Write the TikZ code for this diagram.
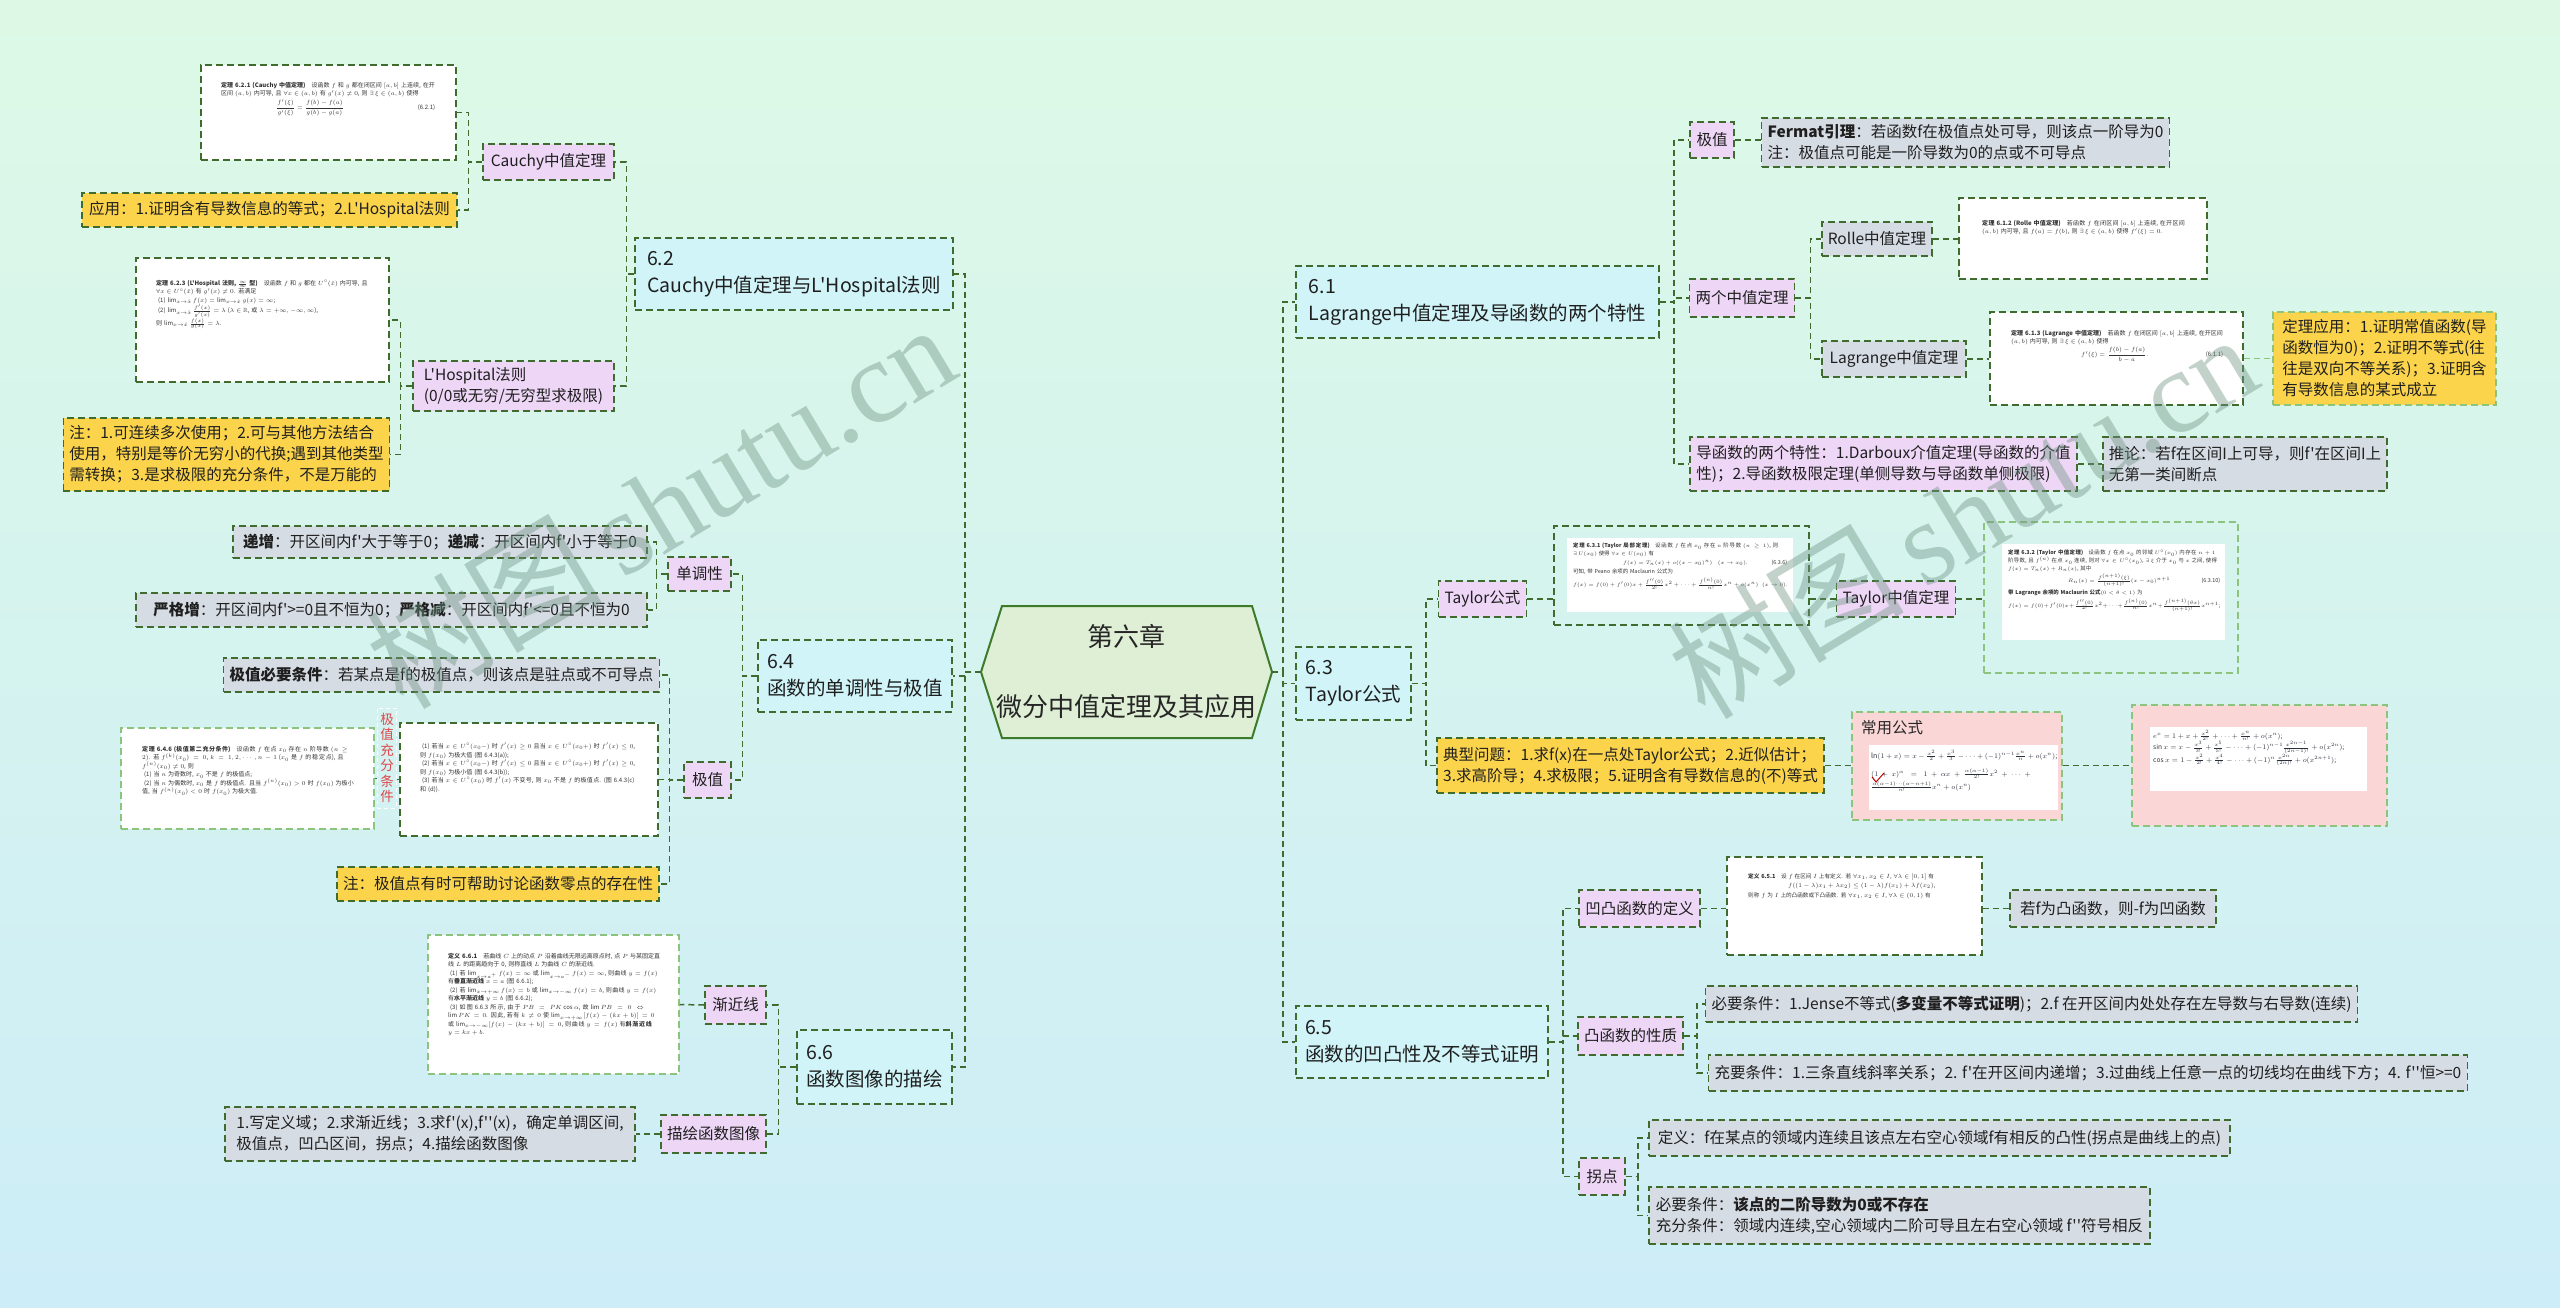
\documentclass[tikz,border=0pt]{standalone}
\usepackage{amsmath,amssymb}
\usepackage{fontspec}
\setmainfont{Noto Sans CJK SC}[Ligatures=TeXOff]
\newfontfamily\wmfont{Liberation Serif}
\XeTeXlinebreaklocale "zh"
\XeTeXlinebreakskip=0pt plus 1pt
\newcommand\fz[2]{\fontsize{#1}{#2}\selectfont}
\definecolor{lineg}{HTML}{3F6B2F}
\definecolor{lightg}{HTML}{8CC47E}
\definecolor{secfill}{HTML}{D0F4F8}
\definecolor{pinkfill}{HTML}{EED6F6}
\definecolor{grayfill}{HTML}{D6DCE4}
\definecolor{yellowfill}{HTML}{FBD44B}
\definecolor{rootfill}{HTML}{DFEFD5}
\definecolor{rootline}{HTML}{3E7A2C}
\definecolor{redtxt}{HTML}{E0474C}
\definecolor{rosefill}{HTML}{FBD6D6}
\definecolor{bgtop}{HTML}{DDF9E6}
\definecolor{bgbot}{HTML}{CDEDF8}
\definecolor{wmcol}{HTML}{6F9483}
\definecolor{ink}{HTML}{2A2F3A}
\begin{document}
\begin{tikzpicture}[x=1pt,y=-1pt,
  conn/.style={draw=lineg, line width=1.5pt, dash pattern=on 6pt off 4pt},
  lconn/.style={draw=lightg, line width=1.3pt, dash pattern=on 6pt off 4pt},
  bx/.style={draw=lineg, line width=1.5pt, dash pattern=on 7pt off 4pt, inner xsep=6pt, inner ysep=2pt, align=left, font=\fz{15.5}{21}, text=black!88},
  bb/.style n args={4}{at={({(#1+#3)/2},{(#2+#4)/2})}, minimum width={#3-#1}, minimum height={#4-#2}},
  sec/.style={bx, fill=secfill, font=\fz{19.5}{27}},
  pk/.style={bx, fill=pinkfill},
  gy/.style={bx, fill=grayfill},
  yl/.style={bx, fill=yellowfill},
  img/.style={bx, fill=white},
  limg/.style={bx, draw=lightg, fill=white},
  frame/.style={bx, fill=none},
  lframe/.style={bx, draw=lightg, fill=none},
  rose/.style={bx, draw=lightg, fill=rosefill},
  plain/.style={inner sep=0pt, fill=white, minimum width=10pt},
  imgtxt/.style={inner sep=0pt, align=left, anchor=north west, font=\fz{6}{8.5}, text=black!80},
  hand/.style={inner sep=0pt, align=left, anchor=north west, font=\fz{7}{13}, text=ink},
  wm/.style={font=\fz{118}{118}, text=wmcol, opacity=0.42, inner sep=0pt}
]
\useasboundingbox (0,0) rectangle (2560,1307);
\fill[top color=bgtop, bottom color=bgbot] (0,0) rectangle (2560,1307);

% ---------- root ----------
\filldraw[fill=rootfill, draw=rootline, line width=2pt] (1002,606) -- (1252,606) -- (1272,672) -- (1252,738) -- (1002,738) -- (981,672) -- cycle;
\node[bb={981}{606}{1272}{738}, align=center, font=\fz{26}{70}, text=black!85] (root) {第六章\\微分中值定理及其应用};

% ---------- left: 6.2 ----------
\node[sec, bb={635}{238}{953}{310}] (s62) {6.2\\Cauchy中值定理与L'Hospital法则};
\node[pk, bb={483}{144}{614}{180}] (cauchy) {Cauchy中值定理};
\node[img, bb={201}{65}{456}{160}] (cimg) {};
\node[imgtxt, text width=214] (cimgt) at (221,82) {\textbf{定理 6.2.1 (Cauchy 中值定理)}\quad 设函数 $f$ 和 $g$ 都在闭区间 $[a,b]$ 上连续, 在开区间 $(a,b)$ 内可导, 且 $\forall x\in(a,b)$ 有 $g'(x)\neq0$, 则 $\exists\,\xi\in(a,b)$ 使得\\[1pt]\hspace*{55pt}$\dfrac{f'(\xi)}{g'(\xi)}=\dfrac{f(b)-f(a)}{g(b)-g(a)}$\hfill(6.2.1)};
\node[yl, bb={82}{193}{457}{227}] (capp) {应用：1.证明含有导数信息的等式；2.L'Hospital法则};
\node[img, bb={136}{258}{389}{382}] (limg) {};
\node[imgtxt, text width=212] (limgt) at (156,280) {\textbf{定理 6.2.3 (L'Hospital 法则, $\frac{\infty}{\infty}$ 型)}\quad 设函数 $f$ 和 $g$ 都在 $U^\circ(\hat x)$ 内可导, 且 $\forall x\in U^\circ(\hat x)$ 有 $g'(x)\neq0$. 若满足\\
\ (1) $\lim_{x\to\hat x}f(x)=\lim_{x\to\hat x}g(x)=\infty$;\\
\ (2) $\lim_{x\to\hat x}\frac{f'(x)}{g'(x)}=\lambda$ ($\lambda\in\mathbb{R}$, 或 $\lambda=+\infty,-\infty,\infty$),\\
则 $\lim_{x\to\hat x}\frac{f(x)}{g(x)}=\lambda$.};
\node[pk, bb={413}{361}{614}{411}] (lhos) {L'Hospital法则\\(0/0或无穷/无穷型求极限)};
\node[yl, bb={64}{418}{389}{491}] (lnote) {注：1.可连续多次使用；2.可与其他方法结合\\使用，特别是等价无穷小的代换;遇到其他类型\\需转换；3.是求极限的充分条件，不是万能的};

% ---------- left: 6.4 ----------
\node[sec, bb={758}{640}{952}{712}] (s64) {6.4\\函数的单调性与极值};
\node[pk, bb={668}{557}{731}{591}] (mono) {单调性};
\node[gy, bb={233}{526}{647}{558}] (inc) {\textbf{递增}：开区间内f'大于等于0；\textbf{递减}：开区间内f'小于等于0};
\node[gy, bb={136}{593}{647}{627}] (strict) {\textbf{严格增}：开区间内f'>=0且不恒为0；\textbf{严格减}：开区间内f'<=0且不恒为0};
\node[pk, bb={684}{762}{731}{798}] (ext) {极值};
\node[gy, bb={225}{658}{658}{692}] (nec) {\textbf{极值必要条件}：若某点是f的极值点，则该点是驻点或不可导点};
\node[img, bb={400}{723}{658}{836}] (eimgR) {};
\node[imgtxt, text width=218] (eimgRt) at (420,743) {\ (1) 若当 $x\in U^\circ(x_0-)$ 时 $f'(x)\geq0$ 且当 $x\in U^\circ(x_0+)$ 时 $f'(x)\leq0$, 则 $f(x_0)$ 为极大值 (图 6.4.3(a));\\
\ (2) 若当 $x\in U^\circ(x_0-)$ 时 $f'(x)\leq0$ 且当 $x\in U^\circ(x_0+)$ 时 $f'(x)\geq0$, 则 $f(x_0)$ 为极小值 (图 6.4.3(b));\\
\ (3) 若当 $x\in U^\circ(x_0)$ 时 $f'(x)$ 不变号, 则 $x_0$ 不是 $f$ 的极值点. (图 6.4.3(c) 和 (d)).};
\node[font=\fz{13.5}{15.5}, text=redtxt, align=center, draw=white, line width=0.8pt, dash pattern=on 4pt off 3pt, inner xsep=3pt, inner ysep=5pt] (elab) at (387,758) {极\\值\\充\\分\\条\\件};
\node[limg, bb={121}{728}{374}{829}] (eimgL) {};
\node[imgtxt, text width=212] (eimgLt) at (142,746) {\textbf{定理 6.4.6 (极值第二充分条件)}\quad 设函数 $f$ 在点 $x_0$ 存在 $n$ 阶导数 $(n\geq2)$. 若 $f^{(k)}(x_0)=0$, $k=1,2,\cdots,n-1$ ($x_0$ 是 $f$ 的稳定点), 且 $f^{(n)}(x_0)\neq0$, 则\\
\ (1) 当 $n$ 为奇数时, $x_0$ 不是 $f$ 的极值点;\\
\ (2) 当 $n$ 为偶数时, $x_0$ 是 $f$ 的极值点. 且当 $f^{(n)}(x_0)>0$ 时 $f(x_0)$ 为极小值, 当 $f^{(n)}(x_0)<0$ 时 $f(x_0)$ 为极大值.};
\node[yl, bb={338}{867}{658}{901}] (enote) {注：极值点有时可帮助讨论函数零点的存在性};

% ---------- left: 6.6 ----------
\node[sec, bb={797}{1030}{952}{1104}] (s66) {6.6\\函数图像的描绘};
\node[pk, bb={705}{986}{766}{1024}] (asym) {渐近线};
\node[limg, bb={428}{935}{679}{1074}] (aimg) {};
\node[imgtxt, text width=212] (aimgt) at (448,953) {\textbf{定义 6.6.1}\quad 若曲线 $C$ 上的动点 $P$ 沿着曲线无限远离原点时, 点 $P$ 与某固定直线 $L$ 的距离趋向于 0, 则称直线 $L$ 为曲线 $C$ 的渐近线.\\
\ (1) 若 $\lim_{x\to a^+}f(x)=\infty$ 或 $\lim_{x\to a^-}f(x)=\infty$, 则曲线 $y=f(x)$ 有\textbf{垂直渐近线} $x=a$ (图 6.6.1);\\
\ (2) 若 $\lim_{x\to+\infty}f(x)=b$ 或 $\lim_{x\to-\infty}f(x)=b$, 则曲线 $y=f(x)$ 有\textbf{水平渐近线} $y=b$ (图 6.6.2);\\
\ (3) 如图 6.6.3 所示, 由于 $PB=PK\cos\alpha$, 故 $\lim PB=0\Leftrightarrow\lim PK=0$. 因此, 若有 $k\neq0$ 使 $\lim_{x\to+\infty}[f(x)-(kx+b)]=0$ 或 $\lim_{x\to-\infty}[f(x)-(kx+b)]=0$, 则曲线 $y=f(x)$ 有\textbf{斜渐近线} $y=kx+b$.};
\node[pk, bb={661}{1115}{766}{1153}] (drawg) {描绘函数图像};
\node[gy, bb={225}{1107}{635}{1161}] (dnote) {1.写定义域；2.求渐近线；3.求f'(x),f''(x)，确定单调区间,\\极值点，凹凸区间，拐点；4.描绘函数图像};

% ---------- right: 6.1 ----------
\node[sec, bb={1296}{266}{1659}{338}] (s61) {6.1\\Lagrange中值定理及导函数的两个特性};
\node[pk, bb={1690}{122}{1734}{158}] (jz) {极值};
\node[gy, bb={1763}{118}{2168}{167}] (fermat) {\textbf{Fermat引理}：若函数f在极值点处可导，则该点一阶导为0\\注：极值点可能是一阶导数为0的点或不可导点};
\node[pk, bb={1690}{279}{1794}{317}] (two) {两个中值定理};
\node[gy, bb={1822}{222}{1932}{256}] (rolle) {Rolle中值定理};
\node[img, bb={1959}{198}{2207}{279}] (rimg) {};
\node[imgtxt, text width=206] (rimgt) at (1982,220) {\textbf{定理 6.1.2 (Rolle 中值定理)}\quad 若函数 $f$ 在闭区间 $[a,b]$ 上连续, 在开区间 $(a,b)$ 内可导, 且 $f(a)=f(b)$, 则 $\exists\,\xi\in(a,b)$ 使得 $f'(\xi)=0$.};
\node[gy, bb={1822}{341}{1966}{377}] (lag) {Lagrange中值定理};
\node[img, bb={1990}{312}{2243}{405}] (lgimg) {};
\node[imgtxt, text width=212] (lgimgt) at (2011,330) {\textbf{定理 6.1.3 (Lagrange 中值定理)}\quad 若函数 $f$ 在闭区间 $[a,b]$ 上连续, 在开区间 $(a,b)$ 内可导, 则 $\exists\,\xi\in(a,b)$ 使得\\[1pt]\hspace*{70pt}$f'(\xi)=\dfrac{f(b)-f(a)}{b-a}$.\hfill(6.1.1)};
\node[yl, draw=lightg, bb={2273}{312}{2496}{405}] (lapp) {定理应用：1.证明常值函数(导\\函数恒为0)；2.证明不等式(往\\往是双向不等关系)；3.证明含\\有导数信息的某式成立};
\node[pk, bb={1690}{437}{2077}{491}] (deriv) {导函数的两个特性：1.Darboux介值定理(导函数的介值\\性)；2.导函数极限定理(单侧导数与导函数单侧极限)};
\node[gy, bb={2103}{437}{2387}{491}] (corol) {推论：若f在区间I上可导，则f'在区间I上\\无第一类间断点};

% ---------- right: 6.3 ----------
\node[sec, bb={1296}{647}{1411}{720}] (s63) {6.3\\Taylor公式};
\node[pk, bb={1440}{581}{1525}{617}] (tay) {Taylor公式};
\node[frame, bb={1554}{526}{1809}{625}] (timg) {};
\node[plain, bb={1567}{538}{1793}{612}] (timgw) {};
\node[imgtxt, font=\fz{5.4}{7.6}, text width=214] (timgt) at (1573,543) {\textbf{定理 6.3.1 (Taylor 局部定理)}\quad 设函数 $f$ 在点 $x_0$ 存在 $n$ 阶导数 $(n\geq1)$, 则 $\exists\,U(x_0)$ 使得 $\forall x\in U(x_0)$ 有\\[1pt]
\hspace*{50pt}$f(x)=T_n(x)+o((x-x_0)^n)\quad(x\to x_0)$.\hfill(6.3.6)\\[2pt]
可知, 带 Peano 余项的 Maclaurin 公式为\\[2pt]
$f(x)=f(0)+f'(0)x+\frac{f''(0)}{2!}x^2+\cdots+\frac{f^{(n)}(0)}{n!}x^n+o(x^n)\ \ (x\to0)$.};
\node[pk, bb={1838}{581}{1954}{617}] (tmv) {Taylor中值定理};
\node[lframe, bb={1984}{522}{2238}{673}] (tmimg) {};
\node[plain, bb={2002}{544}{2225}{640}] (tmimgw) {};
\node[imgtxt, font=\fz{5.4}{7.8}, text width=212] (tmimgt) at (2008,550) {\textbf{定理 6.3.2 (Taylor 中值定理)}\quad 设函数 $f$ 在点 $x_0$ 的邻域 $U^\circ(x_0)$ 内存在 $n+1$ 阶导数, 且 $f^{(n)}$ 在点 $x_0$ 连续, 则对 $\forall x\in U^\circ(x_0)$, $\exists\,\xi$ 介于 $x_0$ 与 $x$ 之间, 使得 $f(x)=T_n(x)+R_n(x)$, 其中\\[1pt]
\hspace*{60pt}$R_n(x)=\frac{f^{(n+1)}(\xi)}{(n+1)!}(x-x_0)^{n+1}$\hfill(6.3.10)\\[2pt]
\textbf{带 Lagrange 余项的 Maclaurin 公式}$(0<\theta<1)$ 为\\[2pt]
$f(x)=f(0)+f'(0)x+\frac{f''(0)}{2!}x^2+\cdots+\frac{f^{(n)}(0)}{n!}x^n+\frac{f^{(n+1)}(\theta x)}{(n+1)!}x^{n+1}$;};
\node[yl, bb={1438}{738}{1823}{793}] (typ) {典型问题：1.求f(x)在一点处Taylor公式；2.近似估计；\\3.求高阶导；4.求极限；5.证明含有导数信息的(不)等式};
\node[rose, bb={1852}{712}{2062}{820}] (rose1) {};
\node[inner sep=0pt, anchor=north west, font=\fz{15.5}{18}, text=black!85] (rose1t) at (1861,720) {常用公式};
\node[plain, bb={1869}{745}{2058}{810}] (rose1w) {};
\node[hand, text width=186] (rose1f) at (1871,750) {$\ln(1+x)=x-\frac{x^2}{2}+\frac{x^3}{3}-\cdots+(-1)^{n-1}\frac{x^n}{n}+o(x^n)$;\\[5pt]
$(1+x)^\alpha=1+\alpha x+\frac{\alpha(\alpha-1)}{2!}x^2+\cdots+\frac{\alpha(\alpha-1)\cdots(\alpha-n+1)}{n!}x^n+o(x^n)$};
\draw[red!75!black, line width=1pt] (1872,777) -- (1876,782) -- (1884,773);
\node[rose, bb={2132}{705}{2387}{826}] (rose2) {};
\node[plain, bb={2150}{727}{2367}{791}] (rose2w) {};
\node[hand, font=\fz{6.6}{11.5}, text width=214] (rose2f) at (2153,730) {$e^x=1+x+\frac{x^2}{2!}+\cdots+\frac{x^n}{n!}+o(x^n)$;\\
$\sin x=x-\frac{x^3}{3!}+\frac{x^5}{5!}-\cdots+(-1)^{n-1}\frac{x^{2n-1}}{(2n-1)!}+o(x^{2n})$;\\
$\cos x=1-\frac{x^2}{2!}+\frac{x^4}{4!}-\cdots+(-1)^n\frac{x^{2n}}{(2n)!}+o(x^{2n+1})$;};

% ---------- right: 6.5 ----------
\node[sec, bb={1296}{1006}{1548}{1078}] (s65) {6.5\\函数的凹凸性及不等式证明};
\node[pk, bb={1579}{890}{1700}{927}] (cvdef) {凹凸函数的定义};
\node[img, bb={1727}{857}{1982}{955}] (cvimg) {};
\node[imgtxt, font=\fz{5.6}{8.6}, text width=212] (cvimgt) at (1748,873) {\textbf{定义 6.5.1}\quad 设 $f$ 在区间 $I$ 上有定义. 若 $\forall x_1,x_2\in I$, $\forall\lambda\in[0,1]$ 有\\[1pt]
\hspace*{40pt}$f((1-\lambda)x_1+\lambda x_2)\leq(1-\lambda)f(x_1)+\lambda f(x_2)$,\\[1pt]
则称 $f$ 为 $I$ 上的凸函数或下凸函数. 若 $\forall x_1,x_2\in I$, $\forall\lambda\in(0,1)$ 有};
\node[gy, bb={2010}{890}{2216}{927}] (ifneg) {若f为凸函数，则-f为凹函数};
\node[pk, bb={1579}{1017}{1682}{1055}] (cvprop) {凸函数的性质};
\node[gy, bb={1709}{986}{2354}{1022}] (necc) {必要条件：1.Jense不等式(\textbf{多变量不等式证明})；2.f 在开区间内处处存在左导数与右导数(连续)};
\node[gy, bb={1709}{1055}{2467}{1091}] (suff) {充要条件：1.三条直线斜率关系；2. f'在开区间内递增；3.过曲线上任意一点的切线均在曲线下方；4. f''恒>=0};
\node[pk, bb={1579}{1158}{1625}{1195}] (infl) {拐点};
\node[gy, bb={1649}{1120}{2230}{1156}] (idef) {定义：f在某点的领域内连续且该点左右空心领域f有相反的凸性(拐点是曲线上的点)};
\node[gy, bb={1649}{1187}{2150}{1244}] (icond) {必要条件：\textbf{该点的二阶导数为0或不存在}\\充分条件：领域内连续,空心领域内二阶可导且左右空心领域 f''符号相反};

% ---------- connectors ----------
\draw[conn] (root.west) -- ++(-16,0) |- (s62.east);
\draw[conn] (root.west) -- ++(-16,0) |- (s64.east);
\draw[conn] (root.west) -- ++(-16,0) |- (s66.east);
\draw[conn] (root.east) -- ++(11,0) |- (s61.west);
\draw[conn] (root.east) -- ++(11,0) |- (s63.west);
\draw[conn] (root.east) -- ++(11,0) |- (s65.west);

\draw[conn] (s62.west) -- ++(-8,0) |- (cauchy.east);
\draw[conn] (s62.west) -- ++(-8,0) |- (lhos.east);
\draw[conn] (cauchy.west) -- ++(-14,0) |- (cimg.east);
\draw[conn] (cauchy.west) -- ++(-14,0) |- (capp.east);
\draw[conn] (lhos.west) -- ++(-12,0) |- (limg.east);
\draw[conn] (lhos.west) -- ++(-12,0) |- (lnote.east);

\draw[conn] (s64.west) -- ++(-15,0) |- (mono.east);
\draw[conn] (s64.west) -- ++(-15,0) |- (ext.east);
\draw[conn] (mono.west) -- ++(-11,0) |- (inc.east);
\draw[conn] (mono.west) -- ++(-11,0) |- (strict.east);
\draw[conn] (ext.west) -- ++(-14,0) |- (nec.east);
\draw[conn] (ext.west) -- ++(-14,0) |- (eimgR.east);
\draw[conn] (ext.west) -- ++(-14,0) |- (enote.east);
\draw[conn] (eimgR.west) -- (eimgR.west -| elab.east);
\draw[conn] (eimgL.east -| elab.west) -- (eimgL.east);

\draw[conn] (s66.west) -- ++(-18,0) |- (asym.east);
\draw[conn] (s66.west) -- ++(-18,0) |- (drawg.east);
\draw[conn] (asym.west) -- (aimg.east);
\draw[conn] (drawg.west) -- (dnote.east);

\draw[conn] (s61.east) -- ++(14,0) |- (jz.west);
\draw[conn] (s61.east) -- ++(14,0) |- (two.west);
\draw[conn] (s61.east) -- ++(14,0) |- (deriv.west);
\draw[conn] (jz.east) -- (jz.east -| fermat.west);
\draw[conn] (two.east) -- ++(15,0) |- (rolle.west);
\draw[conn] (two.east) -- ++(15,0) |- (lag.west);
\draw[conn] (rolle.east) -- (rolle.east -| rimg.west);
\draw[conn] (lag.east) -- (lag.east -| lgimg.west);
\draw[lconn] (lgimg.east) -- (lapp.west);
\draw[conn] (deriv.east) -- (corol.west);

\draw[conn] (s63.east) -- ++(14,0) |- (tay.west);
\draw[conn] (s63.east) -- ++(14,0) |- (typ.west);
\draw[conn] (tay.east) -- (tay.east -| timg.west);
\draw[conn] (tay.east -| timg.east) -- (tmv.west);
\draw[conn] (tmv.east) -- (tmv.east -| tmimg.west);
\draw[conn] (typ.east) -- (typ.east -| rose1.west);
\draw[conn] (typ.east -| rose1.east) -- (typ.east -| rose2.west);

\draw[conn] (s65.east) -- ++(14,0) |- (cvdef.west);
\draw[conn] (s65.east) -- ++(14,0) |- (cvprop.west);
\draw[conn] (s65.east) -- ++(14,0) |- (infl.west);
\draw[conn] (cvdef.east) -- (cvdef.east -| cvimg.west);
\draw[conn] (cvdef.east -| cvimg.east) -- (ifneg.west);
\draw[conn] (cvprop.east) -- ++(13,0) |- (necc.west);
\draw[conn] (cvprop.east) -- ++(13,0) |- (suff.west);
\draw[conn] (infl.east) -- ++(12,0) |- (idef.west);
\draw[conn] (infl.east) -- ++(12,0) |- (icond.west);

% ---------- watermarks ----------
\node[wm, rotate=31] (wm1) at (660,505) {树图\,{\wmfont shutu.cn}};
\node[wm, rotate=31] (wm2) at (1962,515) {树图\,{\wmfont shutu.cn}};
\end{tikzpicture}
\end{document}
